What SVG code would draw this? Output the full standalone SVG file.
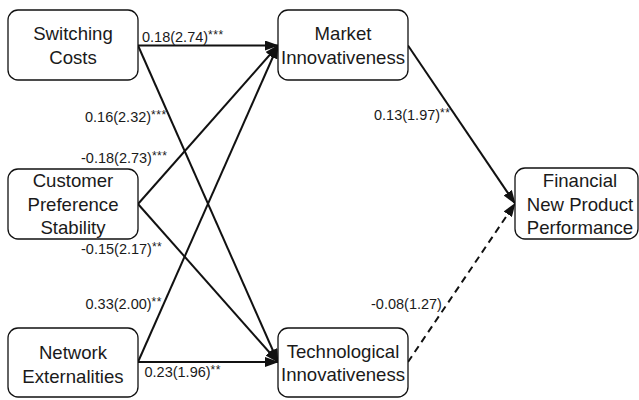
<svg xmlns="http://www.w3.org/2000/svg" width="639" height="400" viewBox="0 0 639 400">
<style>
.box{fill:#fff;stroke:#111;stroke-width:1.3}
.nt{font-family:"Liberation Sans",Arial,sans-serif;font-size:18.6px;fill:#1a1a1a;text-anchor:middle}
.lb{font-family:"Liberation Sans",Arial,sans-serif;font-size:14.5px;fill:#1a1a1a}
.st{font-size:12px;letter-spacing:0.5px}
.ln{stroke:#111;stroke-width:2;fill:none;marker-end:url(#ah)}
.dash{stroke-dasharray:7,5}
</style>
<defs>
<marker id="ah" markerUnits="userSpaceOnUse" markerWidth="14" markerHeight="10" refX="13" refY="5" orient="auto">
<path d="M0,0 L14,5 L0,10 z" fill="#111"/>
</marker>
</defs>
<rect x="0" y="0" width="639" height="400" fill="#fff"/>
<g id="connectors">
<line class="ln" x1="138" y1="45.5" x2="278" y2="45.5"/>
<line class="ln" x1="138" y1="45.5" x2="278" y2="362"/>
<line class="ln" x1="138" y1="204" x2="278" y2="45.5"/>
<line class="ln" x1="138" y1="204" x2="278" y2="362"/>
<line class="ln" x1="138" y1="362" x2="278" y2="45.5"/>
<line class="ln" x1="138" y1="362" x2="278" y2="362"/>
<line class="ln" x1="408" y1="45.5" x2="515" y2="203.5"/>
<line class="ln dash" x1="408" y1="362" x2="515" y2="203.5"/>
<text class="lb" x="142" y="41.5">0.18(2.74)<tspan class="st" dy="-3">***</tspan></text>
<text class="lb" x="85" y="121.5">0.16(2.32)<tspan class="st" dy="-3">***</tspan></text>
<text class="lb" x="81" y="162.5">-0.18(2.73)<tspan class="st" dy="-3">***</tspan></text>
<text class="lb" x="81" y="254">-0.15(2.17)<tspan class="st" dy="-3">**</tspan></text>
<text class="lb" x="85.5" y="309.3">0.33(2.00)<tspan class="st" dy="-3">**</tspan></text>
<text class="lb" x="144.5" y="376.7">0.23(1.96)<tspan class="st" dy="-3">**</tspan></text>
<text class="lb" x="374" y="120">0.13(1.97)<tspan class="st" dy="-3">**</tspan></text>
<text class="lb" x="371" y="309">-0.08(1.27)</text>
</g>
<g id="switching-costs">
<rect class="box" x="8" y="10" width="130" height="70" rx="10"/>
<text class="nt" x="73" y="40">Switching</text>
<text class="nt" x="73" y="64">Costs</text>
</g>
<g id="customer-preference-stability">
<rect class="box" x="8" y="169" width="130" height="70" rx="10"/>
<text class="nt" x="73" y="187">Customer</text>
<text class="nt" x="73" y="211">Preference</text>
<text class="nt" x="73" y="234">Stability</text>
</g>
<g id="network-externalities">
<rect class="box" x="8" y="328" width="130" height="69" rx="10"/>
<text class="nt" x="73" y="359">Network</text>
<text class="nt" x="73" y="382.5">Externalities</text>
</g>
<g id="market-innovativeness">
<rect class="box" x="278" y="10" width="130" height="70" rx="10"/>
<text class="nt" x="343" y="40">Market</text>
<text class="nt" x="343" y="64">Innovativeness</text>
</g>
<g id="technological-innovativeness">
<rect class="box" x="278" y="328" width="130" height="69" rx="10"/>
<text class="nt" x="343" y="357.5">Technological</text>
<text class="nt" x="343" y="381">Innovativeness</text>
</g>
<g id="financial-new-product-performance">
<rect class="box" x="515" y="168" width="123" height="71" rx="10"/>
<text class="nt" x="580" y="187">Financial</text>
<text class="nt" x="580" y="210.5">New Product</text>
<text class="nt" x="580" y="234">Performance</text>
</g>
</svg>
